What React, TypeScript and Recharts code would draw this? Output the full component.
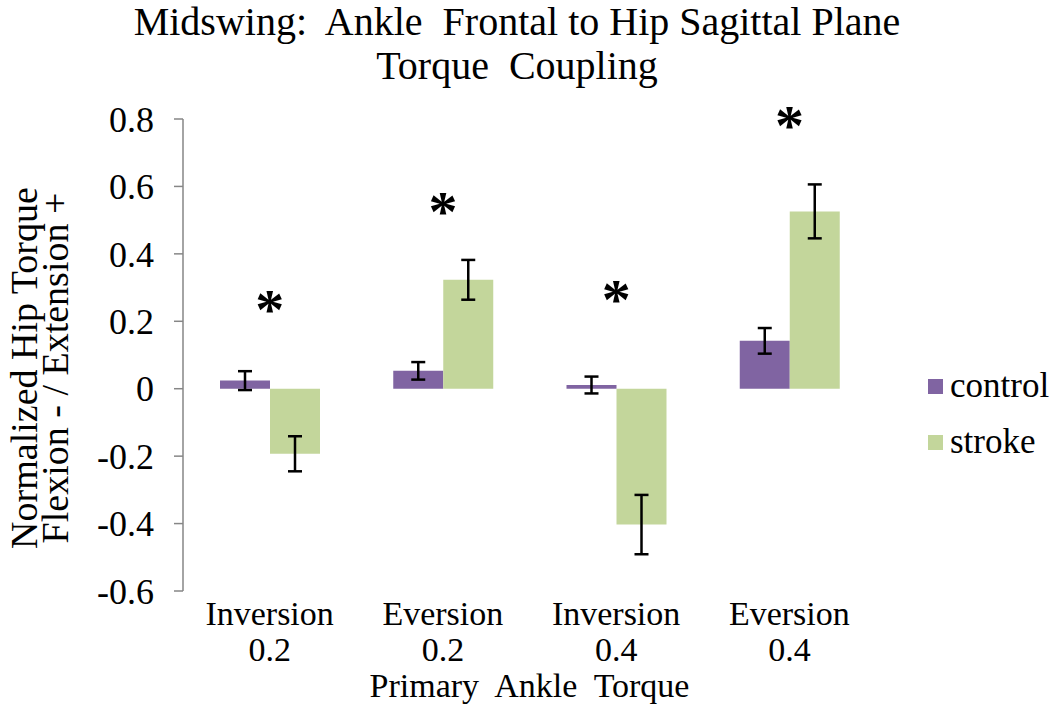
import { Bar, ComposedChart, ErrorBar, Legend, ReferenceDot, XAxis, YAxis } from "recharts"

const categories = ["Inversion 0.2", "Eversion 0.2", "Inversion 0.4", "Eversion 0.4"]
const controlValues = [0.024, 0.053, 0.011, 0.142]
const controlErrors = [0.028, 0.026, 0.025, 0.038]
const strokeValues = [-0.193, 0.323, -0.403, 0.526]
const strokeErrors = [0.052, 0.059, 0.088, 0.08]
const significance = [0.267, 0.556, 0.296, 0.813]
const yTicks = [-0.6, -0.4, -0.2, 0, 0.2, 0.4, 0.6, 0.8]

const data = categories.map((name, i) => ({
  name,
  control: controlValues[i],
  controlErr: controlErrors[i],
  stroke: strokeValues[i],
  strokeErr: strokeErrors[i],
}))

const purple = "#8064A2"
const green = "#C3D69B"

// no font-family anywhere: the page default is the browser's serif
function CategoryTick({ x, y, payload }: any) {
  const [kind, amount] = String(payload.value).split(" ")
  return (
    <text textAnchor="middle" fontSize={34} fill="#000">
      <tspan x={x} y={y + 34}>{kind}</tspan>
      <tspan x={x} y={y + 70}>{amount}</tspan>
    </text>
  )
}

function Star({ cx, cy }: any) {
  return (
    <text x={cx} y={cy + 30} textAnchor="middle" fontWeight="bold" fontSize={58} fill="#000">
      *
    </text>
  )
}

function YTitle({ viewBox }: any) {
  const cy = viewBox.y + viewBox.height / 2 + 13
  return (
    <g>
      <text x={37} y={cy} textAnchor="middle" fontSize={38} fill="#000" transform={`rotate(-90 37 ${cy})`}>
        Normalized Hip Torque
      </text>
      <text x={68} y={cy} textAnchor="middle" fontSize={38} fill="#000" transform={`rotate(-90 68 ${cy})`}>
        Flexion - / Extension +
      </text>
    </g>
  )
}

function XTitle({ viewBox }: any) {
  return (
    <text x={viewBox.x + viewBox.width / 2} y={viewBox.y + 106} textAnchor="middle" fontSize={34} fill="#000" style={{ whiteSpace: "pre" }}>
      {"Primary  Ankle  Torque"}
    </text>
  )
}

function LegendBox({ payload }: any) {
  return (
    <div style={{ fontSize: 35, color: "#000" }}>
      {(payload || []).map((p: any) => (
        <div key={p.value} style={{ display: "flex", alignItems: "center", height: 56 }}>
          <span style={{ width: 15, height: 15, background: p.color, marginRight: 7, display: "inline-block" }} />
          <span>{p.value}</span>
        </div>
      ))}
    </div>
  )
}

export default function App() {
  return (
    <div style={{ position: "absolute", left: 0, top: 0, width: 1050, height: 704, background: "#fff" }}>
      <div style={{ position: "absolute", left: 0, top: 0, width: 1034, textAlign: "center", fontSize: 40, lineHeight: "44px", whiteSpace: "pre", color: "#000" }}>
        {"Midswing:  Ankle  Frontal to Hip Sagittal Plane\nTorque  Coupling"}
      </div>
      <ComposedChart width={1050} height={704} data={data} margin={{ top: 119, right: 174, bottom: 0, left: 0 }} barGap={0} barSize={50}>
        <XAxis dataKey="name" axisLine={false} tickLine={false} tickSize={0} tickMargin={0} height={113} tick={<CategoryTick />} interval={0} label={<XTitle />} />
        <YAxis
          width={183}
          domain={[-0.6, 0.8]}
          ticks={yTicks}
          allowDataOverflow
          stroke="#868686"
          strokeWidth={1.5}
          tickSize={9}
          tickMargin={20}
          tick={{ fill: "#000", fontSize: 36 }}
          tickFormatter={(v: number) => (v === 0 ? "0" : v.toFixed(1))}
          label={<YTitle />}
        />
        <Legend
          layout="horizontal"
          align="center"
          verticalAlign="middle"
          wrapperStyle={{ left: 928, top: 358, width: 122 }}
          content={<LegendBox />}
        />
        <Bar dataKey="control" name="control" fill={purple} isAnimationActive={false}>
          <ErrorBar dataKey="controlErr" width={7} stroke="#000" strokeWidth={2.5} />
        </Bar>
        <Bar dataKey="stroke" name="stroke" fill={green} isAnimationActive={false}>
          <ErrorBar dataKey="strokeErr" width={7} stroke="#000" strokeWidth={2.5} />
        </Bar>
        {categories.map((name, i) => (
          <ReferenceDot key={name} x={name} y={significance[i]} ifOverflow="visible" shape={<Star />} />
        ))}
      </ComposedChart>
    </div>
  )
}
